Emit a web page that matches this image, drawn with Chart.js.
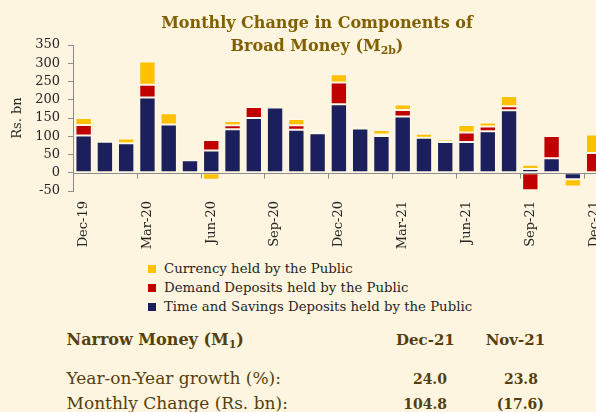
<!DOCTYPE html>
<html>
<head>
<meta charset="utf-8">
<script src="https://cdn.jsdelivr.net/npm/chart.js@4.4.0/dist/chart.umd.min.js"></script>
<style>
html,body{margin:0;padding:0;width:596px;height:412px;overflow:hidden;background:#FEF5E0;}
#wrap{position:relative;width:596px;height:412px;overflow:hidden;font-family:"DejaVu Serif",serif;background:#FEF5E0;}
#c{position:absolute;left:0;top:0;}
.t{position:absolute;white-space:nowrap;line-height:1.2;}
.title{left:0;width:634px;text-align:center;font-weight:bold;font-size:16px;color:#806000;}
.leg{font-size:13.3px;color:#262626;left:164px;}
.sq{position:absolute;width:8px;height:8px;left:148px;}
.tb{color:#553F0E;}
.h{font-size:16px;font-weight:bold;}
.hc{font-size:15px;font-weight:bold;}
.r{font-size:17px;}
.n{font-size:14px;font-weight:bold;}
sub{font-size:0.68em;line-height:0;vertical-align:-0.25em;}
</style>
</head>
<body>
<div id="wrap">
<canvas id="c" width="620" height="260"></canvas>
<div class="t title" style="top:13px">Monthly Change in Components of</div>
<div class="t title" style="top:35.5px">Broad Money (M<sub>2b</sub>)</div>
<div id="legend"></div>
<div class="t tb h" style="left:66.5px;top:330.2px">Narrow Money (M<sub>1</sub>)</div>
<div class="t tb hc" style="left:325.4px;width:200px;text-align:center;top:331.1px">Dec-21</div>
<div class="t tb hc" style="left:415.4px;width:200px;text-align:center;top:331.1px">Nov-21</div>
<div class="t tb r" style="left:66.5px;top:367.6px">Year-on-Year growth (%):</div>
<div class="t tb n" style="right:149px;top:370.5px">24.0</div>
<div class="t tb n" style="right:58px;top:370.5px">23.8</div>
<div class="t tb r" style="left:66.5px;top:393.2px">Monthly Change (Rs. bn):</div>
<div class="t tb n" style="right:149px;top:396.1px">104.8</div>
<div class="t tb n" style="right:52px;top:396.1px">(17.6)</div>
</div>
<script>
// ---- data ----
const months = ['Dec-19','Jan-20','Feb-20','Mar-20','Apr-20','May-20','Jun-20','Jul-20','Aug-20','Sep-20','Oct-20','Nov-20',
                'Dec-20','Jan-21','Feb-21','Mar-21','Apr-21','May-21','Jun-21','Jul-21','Aug-21','Sep-21','Oct-21','Nov-21','Dec-21'];
const timeSavings    = [102, 85, 81, 206, 132, 34, 61, 119, 150, 179, 118, 108, 188, 121, 101, 154, 96, 84, 84, 114, 171, 10, 40, -18, -3];
const demandDeposits = [29, -3, -5, 35, -2, 1, 29, 11, 30, -3, 12, 5, 59, 0, 4, 18, 0, -6, 26, 13, 11, -48, 61, 2, 54];
const currency       = [19, -2, 13, 64, 31, 1, -19, 12, 4, 1, 17, 4, 23, 5, 12, 15, 11, 7, 21, 11, 28, 12, -6, -19.5, 51];
const seriesNames  = ['Time and Savings Deposits held by the Public', 'Demand Deposits held by the Public', 'Currency held by the Public'];
const seriesValues = [timeSavings, demandDeposits, currency];
const seriesColors = ['#1B1F5C', '#C00000', '#FFC000'];
const yMin = -50, yMax = 350, yStep = 50;
const labelEvery = 3;

// ---- styles ----
const axisGray = '#8C8C8C';
const tickFont = {family: '"DejaVu Serif", serif', size: 13};
const textColor = '#262626';

// legend (HTML, built from series)
const legendEl = document.getElementById('legend');
const legendTops = [261, 279.7, 299.4];
seriesNames.slice().reverse().forEach((name, k) => {
  const i = seriesNames.length - 1 - k;
  const sq = document.createElement('div');
  sq.className = 'sq';
  sq.style.top = (legendTops[k] + 4) + 'px';
  sq.style.background = seriesColors[i];
  legendEl.appendChild(sq);
  const tx = document.createElement('div');
  tx.className = 't leg';
  tx.style.top = legendTops[k] + 'px';
  tx.textContent = name;
  legendEl.appendChild(tx);
});

// zero line with quarterly tick marks, placed through the chart's own scales
const zeroAxis = {
  id: 'zeroAxis',
  afterDatasetsDraw(chart) {
    const {ctx, chartArea, scales: {x, y}} = chart;
    const y0 = Math.round(y.getPixelForValue(0)) + 0.5;
    const half = (x.getPixelForValue(1) - x.getPixelForValue(0)) / 2;
    ctx.save();
    ctx.strokeStyle = axisGray;
    ctx.lineWidth = 1;
    ctx.beginPath();
    ctx.moveTo(chartArea.left, y0);
    ctx.lineTo(chartArea.right, y0);
    for (let i = 0; i < months.length; i += labelEvery) {
      const bx = Math.round(x.getPixelForValue(i) - half) + 0.5;
      ctx.moveTo(bx, y0);
      ctx.lineTo(bx, y0 + 5);
    }
    ctx.stroke();
    ctx.restore();
  }
};

new Chart(document.getElementById('c'), {
  type: 'bar',
  data: {
    labels: months,
    datasets: seriesNames.map((n, i) => ({
      label: n,
      data: seriesValues[i],
      backgroundColor: seriesColors[i],
      borderColor: 'rgba(255,255,255,0.3)',
      borderWidth: 1,
      borderSkipped: false,
      barPercentage: 0.77,
      categoryPercentage: 1
    }))
  },
  plugins: [zeroAxis],
  options: {
    responsive: false,
    animation: false,
    devicePixelRatio: 1,
    layout: {padding: {top: 45, right: 13, bottom: 0, left: 0}},
    plugins: {legend: {display: false}, tooltip: {enabled: false}, title: {display: false}},
    scales: {
      x: {
        stacked: true,
        offset: true,
        grid: {display: false, drawTicks: false},
        border: {display: false},
        ticks: {
          autoSkip: false, minRotation: 90, maxRotation: 90, padding: 10,
          font: tickFont, color: textColor,
          callback: (v, i) => (i % labelEvery === 0 ? months[i] : '')
        },
        afterFit: (s) => { s.height = 69; }
      },
      y: {
        stacked: true,
        min: yMin, max: yMax,
        ticks: {stepSize: yStep, autoSkip: false, font: tickFont, color: textColor, padding: 8},
        grid: {drawOnChartArea: false, tickLength: 5, color: axisGray},
        border: {color: axisGray},
        title: {display: true, text: 'Rs. bn', font: tickFont, color: textColor, padding: {top: 10, bottom: 0}},
        afterFit: (s) => { s.width = 73; }
      }
    }
  }
});
</script>
</body>
</html>
